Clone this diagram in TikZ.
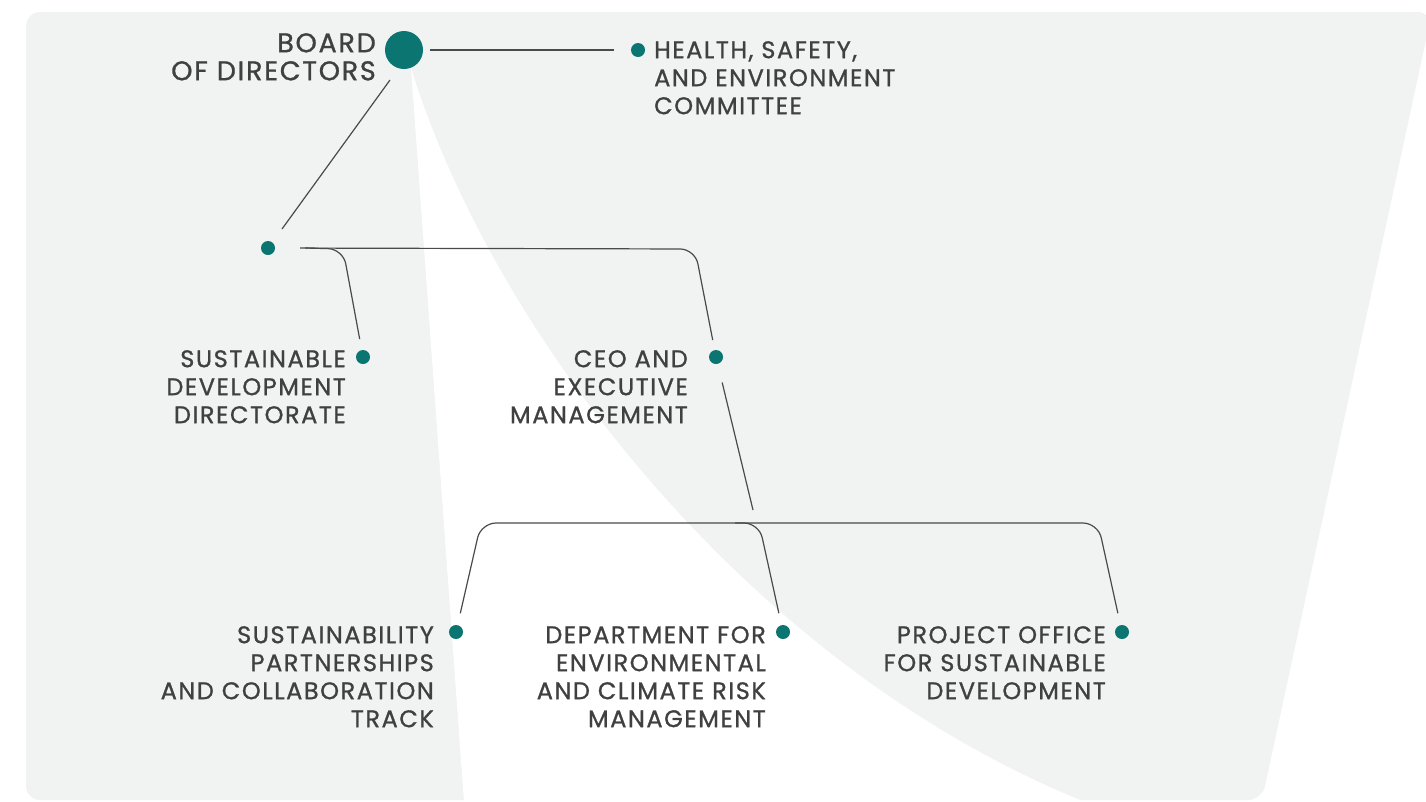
\documentclass[tikz,border=0pt]{standalone}
\usepackage{fontspec}
\setmainfont{Poppins}[LetterSpace=6.5,FakeBold=1]
\usetikzlibrary{positioning}
\definecolor{orgteal}{HTML}{0B7671}
\definecolor{panelgray}{HTML}{F1F2F2}
\definecolor{labgray}{HTML}{404040}
\definecolor{linegray}{HTML}{4A4A4A}
\tikzset{
  dotbig/.style={circle,fill=orgteal,inner sep=0pt,minimum size=38pt},
  dotsm/.style={circle,fill=orgteal,inner sep=0pt,minimum size=14pt},
  link/.style={draw=linegray,line width=1.2pt,rounded corners=15pt},
  lab/.style={text=labgray,inner sep=0pt,font=\fontsize{24}{28}\selectfont},
  labbig/.style={lab,font=\fontsize{27}{28}\selectfont},
}

\begin{document}
\begin{tikzpicture}[x=1pt,y=-1pt]
  \useasboundingbox (0,0) rectangle (1426,801);
  % panel with the white wedge
  \fill[panelgray,rounded corners=14pt] (26,12) -- (1432,12) -- (1262,800) -- (26,800) -- cycle;
  \fill[white] (411,68) -- (464,802) -- (1085,802) .. controls (745,665) and (492,330) .. (411,68);

  % dots
  \node[dotbig] (board) at (404,50) {};
  \node[dotsm] (hse) at (638,50) {};
  \node[dotsm] (jn) at (268,248) {};
  \node[dotsm] (sd) at (363,357) {};
  \node[dotsm] (ceo) at (716,357) {};
  \node[dotsm] (spc) at (456,632) {};
  \node[dotsm] (dep) at (783,632) {};
  \node[dotsm] (pof) at (1122,632) {};

  % labels
  \node[labbig,anchor=north east,align=right] (boardlab) at (376,33) {BOARD\\OF DIRECTORS};
  \node[lab,anchor=north west,align=left] (hselab) at (654,41) {HEALTH, SAFETY,\\AND ENVIRONMENT\\COMMITTEE};
  \node[lab,anchor=north east,align=right] (sdlab) at (346,350) {SUSTAINABLE\\DEVELOPMENT\\DIRECTORATE};
  \node[lab,anchor=north east,align=right] (ceolab) at (688,350) {CEO AND\\EXECUTIVE\\MANAGEMENT};
  \node[lab,anchor=north east,align=right] (spclab) at (434,626) {SUSTAINABILITY\\PARTNERSHIPS\\AND COLLABORATION\\TRACK};
  \node[lab,anchor=north east,align=right] (deplab) at (766,626) {DEPARTMENT FOR\\ENVIRONMENTAL\\AND CLIMATE RISK\\MANAGEMENT};
  \node[lab,anchor=north east,align=right] (poflab) at (1106,626) {PROJECT OFFICE\\FOR SUSTAINABLE\\DEVELOPMENT};

  % bends and free ends
  \coordinate (bj1) at (390,80);
  \coordinate (bj2) at (282,229);
  \coordinate (kSD) at (343,249);
  \coordinate (kCEO) at (695,249);
  \coordinate (ceoEnd) at (753,510);
  \coordinate (kSP) at (481,523);
  \coordinate (barMid) at (735,523);
  \coordinate (kDE) at (759,523);
  \coordinate (kPO) at (1098,523);

  % connectors
  \draw[link,shorten <=7pt,shorten >=17pt] (board.east) -- (hse.west);
  \draw[link] (bj1) -- (bj2);
  \draw[link,shorten <=25pt,shorten >=10pt] (jn.east) -- (kCEO) -- (ceo);
  \draw[link,shorten >=11pt] ([xshift=30pt]jn.east) -- (kSD) -- (sd);
  \draw[link,shorten <=19pt] (ceo) -- (ceoEnd);
  \draw[link,shorten <=12pt,shorten >=12pt] (spc) -- (kSP) -- (kPO) -- (pof);
  \draw[link,shorten >=12pt] (barMid) -- (kDE) -- (dep);
\end{tikzpicture}
\end{document}
